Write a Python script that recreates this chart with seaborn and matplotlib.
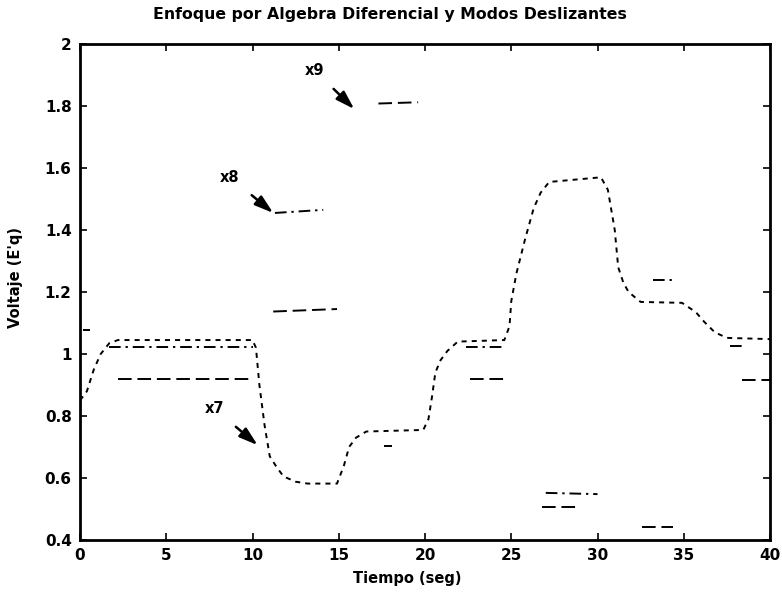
import numpy as np
import pandas as pd
import matplotlib
matplotlib.use("Agg")
import matplotlib.pyplot as plt
import seaborn as sns

# ---- data ----
title = "Enfoque por Algebra Diferencial y Modos Deslizantes"
xlabel = "Tiempo (seg)"
ylabel = "Voltaje (E'q)"
xticks = [0, 5, 10, 15, 20, 25, 30, 35, 40]
yticks = [0.4, 0.6, 0.8, 1.0, 1.2, 1.4, 1.6, 1.8, 2.0]
ytick_labels = ["0.4", "0.6", "0.8", "1", "1.2", "1.4", "1.6", "1.8", "2"]

# x7 (dotted, continuous)
x7_t = [0.0, 0.4, 0.8, 1.2, 1.7, 2.2, 10.0, 10.2, 10.4, 10.7, 11.0, 11.4, 11.8,
        12.5, 13.2, 14.9, 15.3, 15.6, 16.0, 16.6, 19.9, 20.2, 20.4, 20.6, 20.9,
        21.3, 21.9, 24.6, 24.9, 25.0, 25.3, 25.8, 26.3, 26.7, 27.2, 30.2, 30.6,
        31.0, 31.2, 31.5, 31.8, 32.5, 34.9, 35.7, 36.2, 36.8, 37.5, 40.0]
x7_v = [0.85, 0.88, 0.95, 1.00, 1.035, 1.045, 1.045, 1.02, 0.90, 0.77, 0.67, 0.635,
        0.605, 0.588, 0.582, 0.582, 0.64, 0.70, 0.73, 0.75, 0.755, 0.79, 0.86, 0.94,
        0.98, 1.01, 1.04, 1.045, 1.09, 1.17, 1.26, 1.37, 1.47, 1.52, 1.555, 1.57,
        1.53, 1.40, 1.28, 1.23, 1.20, 1.168, 1.165, 1.135, 1.103, 1.07, 1.052, 1.048]

# x8 (dash-dot, visible fragments)
x8_t = [0.2, 0.6, 1.7, 10.0, 11.3, 14.1, 17.6, 18.1, 22.4, 24.6, 27.0, 30.0,
        33.2, 34.3, 37.7, 38.6]
x8_v = [1.077, 1.077, 1.023, 1.023, 1.455, 1.465, 0.703, 0.703, 1.023, 1.023,
        0.552, 0.548, 1.239, 1.239, 1.026, 1.026]
x8_seg = [0, 0, 1, 1, 2, 2, 3, 3, 4, 4, 5, 5, 6, 6, 7, 7]

# x9 (dashed, visible fragments)
x9_t = [2.2, 9.9, 11.2, 14.9, 17.3, 19.6, 22.6, 24.7, 26.8, 28.8, 32.6, 34.4,
        38.4, 40.0]
x9_v = [0.919, 0.919, 1.137, 1.145, 1.808, 1.812, 0.919, 0.919, 0.506, 0.506,
        0.442, 0.442, 0.916, 0.916]
x9_seg = [0, 0, 1, 1, 2, 2, 3, 3, 4, 4, 5, 5, 6, 6]

# annotations: label, text position, arrow tip
ann_labels = ["x9", "x8", "x7"]
ann_text = [(13.6, 1.915), (8.7, 1.57), (7.8, 0.823)]
ann_tip = [(15.9, 1.79), (11.2, 1.455), (10.3, 0.706)]

# ---- build table ----
df = pd.concat([
    pd.DataFrame({"t": x7_t, "v": x7_v, "series": "x7", "seg": 0}),
    pd.DataFrame({"t": x8_t, "v": x8_v, "series": "x8", "seg": x8_seg}),
    pd.DataFrame({"t": x9_t, "v": x9_v, "series": "x9", "seg": x9_seg}),
], ignore_index=True)
df["unit"] = df["series"] + "_" + df["seg"].astype(str)

sns.set_theme(style="ticks")
plt.rcParams["font.family"] = ["DejaVu Sans"]
plt.rcParams["font.weight"] = "bold"
plt.rcParams["text.color"] = "black"
plt.rcParams["axes.labelcolor"] = "black"
plt.rcParams["xtick.color"] = "black"
plt.rcParams["ytick.color"] = "black"

fig = plt.figure(figsize=(7.82, 5.92), dpi=100)
ax = fig.add_axes([80 / 782, 52 / 592, 690 / 782, 496 / 592])

sns.lineplot(data=df, x="t", y="v", hue="series", style="series", units="unit",
             estimator=None, sort=False,
             palette={"x7": "black", "x8": "black", "x9": "black"},
             dashes={"x7": (2.6, 2.6), "x8": (6, 2.5, 1.2, 2.5), "x9": (7, 3)},
             linewidth=1.4, legend=False, ax=ax)

for lab, (tx, ty), (px, py) in zip(ann_labels, ann_text, ann_tip):
    ax.annotate(lab, xy=(px, py), xytext=(tx, ty), ha="center", va="center",
                fontsize=10.5, fontweight="bold", color="black",
                arrowprops=dict(arrowstyle="-|>,head_length=0.7,head_width=0.22",
                                color="black", lw=1.8,
                                mutation_scale=16, shrinkA=8, shrinkB=0))

ax.set_xlim(0, 40)
ax.set_ylim(0.4, 2.0)
ax.set_xticks(xticks)
ax.set_yticks(yticks)
ax.set_xticklabels([str(x) for x in xticks])
ax.set_yticklabels(ytick_labels)
ax.tick_params(direction="in", length=5, width=1.2, top=True, right=True,
               labelsize=11, pad=6, colors="black")
for lbl in ax.get_xticklabels() + ax.get_yticklabels():
    lbl.set_fontweight("bold")
for s in ax.spines.values():
    s.set_linewidth(2.0)
    s.set_color("black")
    s.set_visible(True)

ax.set_xlabel(xlabel, fontsize=10.5, fontweight="bold", color="black")
ax.set_ylabel(ylabel, fontsize=10.5, fontweight="bold", color="black")
ax.xaxis.set_label_coords((407 - 80) / 690, -0.062)
ax.yaxis.set_label_coords(-0.083, (540 - 277) / 496)
fig.text(390 / 782, 1 - 15 / 592, title, ha="center", va="center",
         fontsize=11.3, fontweight="bold", color="black")

fig.savefig("out.png", dpi=100, facecolor="white")
